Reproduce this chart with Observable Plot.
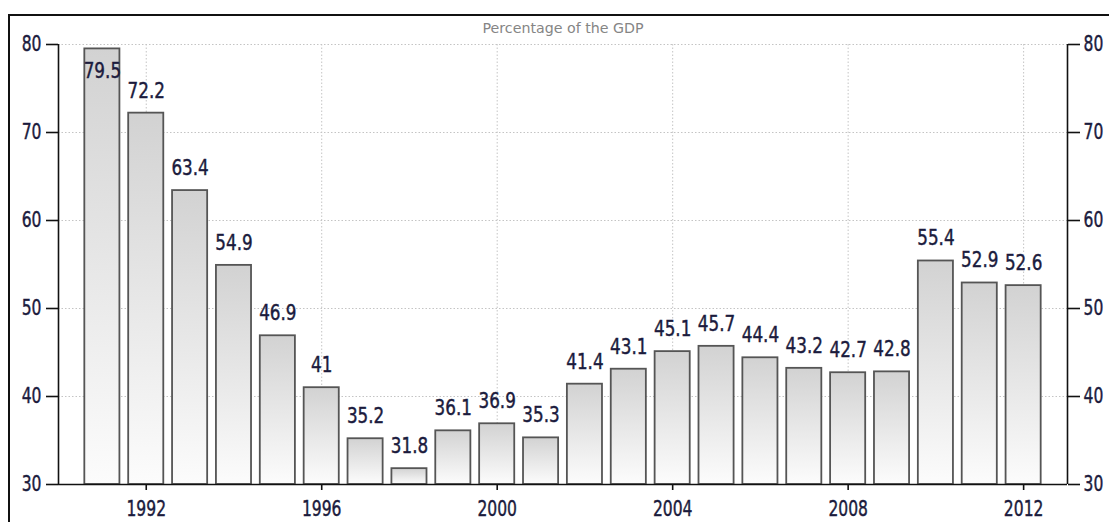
<!DOCTYPE html>
<html>
<head>
<meta charset="utf-8">
<script src="https://cdn.jsdelivr.net/npm/d3@7"></script>
<script src="https://cdn.jsdelivr.net/npm/@observablehq/plot@0.6"></script>
<style>
  html, body { margin: 0; padding: 0; background: #fff; overflow: hidden; }
  #wrap { position: relative; width: 1109px; height: 522px; }
  #frame { position: absolute; left: 8px; top: 14px; width: 1110px; height: 520px;
           border-top: 2px solid #111; border-left: 2px solid #111; pointer-events: none; }
  #chart { position: absolute; left: 0; top: 0; }
  .tlabel text, .vlabel text { stroke: #1b1b3d; stroke-width: 0.45px; paint-order: stroke; }
</style>
</head>
<body>
<div id="wrap"><div id="chart"></div><div id="frame"></div></div>
<script>
const years  = [1991, 1992, 1993, 1994, 1995, 1996, 1997, 1998, 1999, 2000, 2001,
                2002, 2003, 2004, 2005, 2006, 2007, 2008, 2009, 2010, 2011, 2012];
const values = [79.5, 72.2, 63.4, 54.9, 46.9, 41, 35.2, 31.8, 36.1, 36.9, 35.3,
                41.4, 43.1, 45.1, 45.7, 44.4, 43.2, 42.7, 42.8, 55.4, 52.9, 52.6];
const xTickYears = [1992, 1996, 2000, 2004, 2008, 2012];
const yTickValues = [30, 40, 50, 60, 70, 80];
const chartTitle = "Percentage of the GDP";

const data = years.map((year, i) => ({year, value: values[i]}));
const textColor = "#1b1b3d";
const font = "DejaVu Sans, sans-serif";

const plot = Plot.plot({
  width: 1109, height: 522,
  marginLeft: 58, marginRight: 42, marginTop: 44, marginBottom: 38,
  style: {fontFamily: font, background: "transparent", overflow: "visible"},
  x: {type: "linear", domain: [1990, 2013], axis: null},
  y: {domain: [30, 80], axis: null},
  marks: [
    Plot.gridX(xTickYears, {stroke: "#c4c4c4", strokeOpacity: 1, strokeDasharray: "1.5,2"}),
    Plot.gridY(yTickValues.filter(v => v > 30), {stroke: "#c4c4c4", strokeOpacity: 1, strokeDasharray: "1.5,2"}),
    Plot.rectY(data, {
      x1: d => d.year - 0.4, x2: d => d.year + 0.4, y1: 30, y2: "value",
      fill: "url(#barGrad)", stroke: "#555", strokeWidth: 1.8
    }),
    Plot.text(data, {
      x: "year", y: d => Math.min(d.value + 1.76, 76.2),
      text: d => String(d.value), lineAnchor: "bottom",
      fill: textColor, fontSize: 21, className: "vlabel"
    }),
    Plot.ruleY([30], {stroke: "#111", strokeWidth: 1.6}),
    Plot.ruleX([1990, 2013], {stroke: "#111", strokeWidth: 1.6}),
    Plot.axisY(yTickValues, {anchor: "left", label: null, tickSize: 12, tickPadding: 5, tickFormat: "d",
      fontSize: 21, color: textColor, stroke: "#111", strokeWidth: 1.6, className: "tlabel"}),
    Plot.axisY(yTickValues, {anchor: "right", label: null, tickSize: 12, tickPadding: 4, tickFormat: "d",
      fontSize: 21, color: textColor, stroke: "#111", strokeWidth: 1.6, className: "tlabel"}),
    Plot.axisX(xTickYears, {anchor: "bottom", label: null, tickSize: 6, tickPadding: 11, tickFormat: "d",
      fontSize: 21, color: textColor, stroke: "#111", strokeWidth: 1.6, className: "tlabel"}),
    Plot.text([chartTitle], {frameAnchor: "top", dy: -11.5, lineAnchor: "bottom",
      fill: "#858585", fontSize: 14, className: "ctitle"})
  ]
});

// gradient for the bars
const ns = "http://www.w3.org/2000/svg";
const defs = document.createElementNS(ns, "defs");
const grad = document.createElementNS(ns, "linearGradient");
grad.setAttribute("id", "barGrad");
grad.setAttribute("x1", "0"); grad.setAttribute("y1", "0");
grad.setAttribute("x2", "0"); grad.setAttribute("y2", "1");
[["0%", "#d2d2d2"], ["100%", "#fcfcfc"]].forEach(([o, c]) => {
  const s = document.createElementNS(ns, "stop");
  s.setAttribute("offset", o); s.setAttribute("stop-color", c);
  grad.appendChild(s);
});
defs.appendChild(grad);
plot.insertBefore(defs, plot.firstChild);

document.getElementById("chart").appendChild(plot);

// narrow the glyphs like the reference's condensed face
function squeeze(selector, factor, fixed) {
  plot.querySelectorAll(selector + " text").forEach(t => {
    const len = t.getComputedTextLength();
    if (len > 0) {
      t.setAttribute("textLength", fixed ? fixed : len * factor);
      t.setAttribute("lengthAdjust", "spacingAndGlyphs");
    }
  });
}
squeeze(".vlabel", 0.8);
squeeze(".tlabel", 0.74);
squeeze(".ctitle", 1, 161);
</script>
</body>
</html>
